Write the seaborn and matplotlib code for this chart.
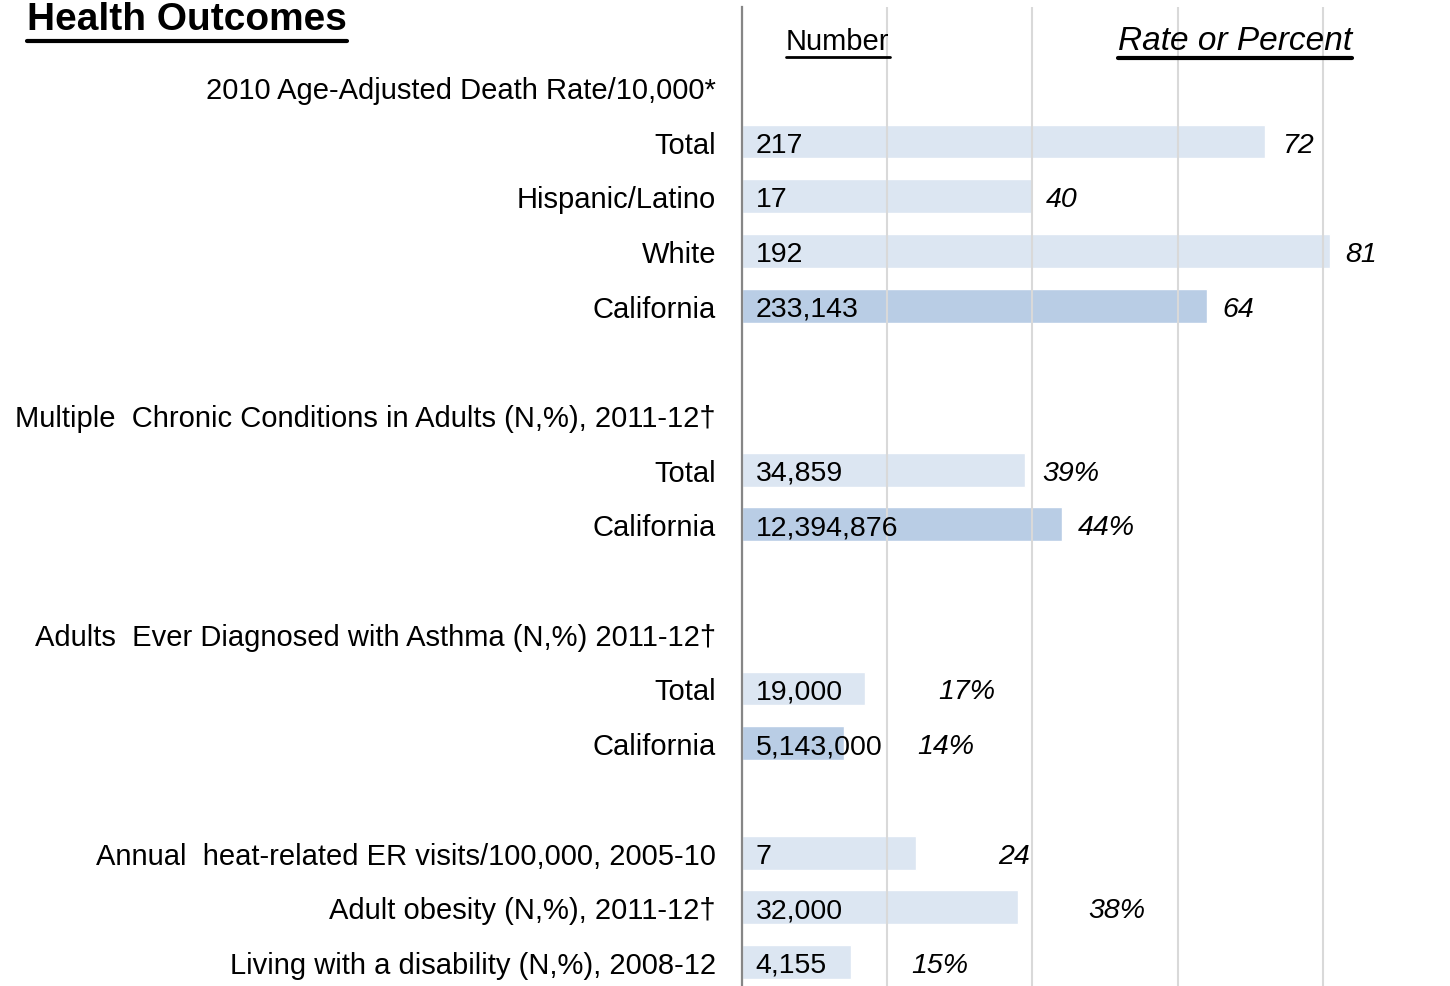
import numpy as np
import pandas as pd
import matplotlib
matplotlib.use("Agg")
import matplotlib.pyplot as plt
import seaborn as sns
from matplotlib.lines import Line2D

sns.set_theme(style="white")
plt.rcParams["font.family"] = ["Liberation Sans", "DejaVu Sans"]

# one entry per row of the table (row 0 holds the column headers)
row_labels = [
    "",
    "2010 Age-Adjusted Death Rate/10,000*",
    "Total", "Hispanic/Latino", "White", "California",
    "",
    "Multiple  Chronic Conditions in Adults (N,%), 2011-12†",
    "Total", "California",
    "",
    "Adults  Ever Diagnosed with Asthma (N,%) 2011-12†",
    "Total", "California",
    "",
    "Annual  heat-related ER visits/100,000, 2005-10",
    "Adult obesity (N,%), 2011-12†",
    "Living with a disability (N,%), 2008-12",
]
numbers = ["", "", "217", "17", "192", "233,143", "", "", "34,859", "12,394,876",
           "", "", "19,000", "5,143,000", "", "7", "32,000", "4,155"]
rates = [np.nan, np.nan, 72, 40, 81, 64, np.nan, np.nan, 39, 44,
         np.nan, np.nan, 17, 14, np.nan, 24, 38, 15]
rate_text = ["", "", "72", "40", "81", "64", "", "", "39%", "44%",
             "", "", "17%", "14%", "", "24", "38%", "15%"]
groups = ["", "", "local", "local", "local", "state", "", "", "local", "state",
          "", "", "local", "state", "", "local", "local", "local"]

# layout: x position (in rate units) of the italic rate labels
rate_label_x = [0, 0, 74.4, 41.9, 83.1, 66.1, 0, 0, 41.3, 46.3,
                0, 0, 27.0, 24.2, 0, 35.3, 47.7, 23.3]

df = pd.DataFrame({"row": range(len(row_labels)), "rate": rates, "group": groups}).dropna()

W, H = 1450, 987
fig = plt.figure(figsize=(W / 100, H / 100), dpi=100)
ax = fig.add_axes([742 / W, 0, (W - 742) / W, (H - 8) / H])

sns.barplot(data=df, x="rate", y="row", hue="group", orient="h", native_scale=True,
            dodge=False, palette={"local": "#dce6f2", "state": "#b9cde5"},
            width=0.62, saturation=1, legend=False, ax=ax)

ax.set_xlim(0, 97.5)
ax.set_ylim(17.44, -0.46)
ax.set_xlabel("")
ax.set_ylabel("")
ax.set_xticks([0, 20, 40, 60, 80])
ax.set_axisbelow(False)
ax.grid(axis="x", color="#d9d9d9", lw=1.5)
ax.grid(axis="y", visible=False)
ax.tick_params(axis="x", labelbottom=False, length=0)
ax.set_yticks(range(len(row_labels)))
ax.set_yticklabels(row_labels, fontsize=21, color="black")
ax.tick_params(axis="y", length=0, pad=18.7)
for s in ["top", "right", "bottom"]:
    ax.spines[s].set_visible(False)
ax.spines["left"].set_color("#868686")
ax.spines["left"].set_linewidth(1.6)
ax.spines["left"].set_zorder(4)

fs = 20.5
for i in range(len(row_labels)):
    if numbers[i]:
        ax.text(1.9, i, numbers[i], va="center_baseline", ha="left", fontsize=fs,
                color="black", zorder=5)
    if rate_text[i]:
        ax.text(rate_label_x[i], i, rate_text[i], va="center_baseline", ha="left",
                fontsize=fs, style="italic", color="black", zorder=5)

t_num = ax.text(13.2, 0.16, "Number", ha="center", va="center", fontsize=21, color="black")
t_rate = ax.text(67.9, 0.16, "Rate or Percent", ha="center", va="center", fontsize=24,
                 style="italic", color="black")
t_title = fig.text(27 / W, 1 - 30 / H, "Health Outcomes", ha="left", va="baseline",
                   fontsize=28, fontweight="bold", color="black")

fig.canvas.draw()
renderer = fig.canvas.get_renderer()
inv = fig.transFigure.inverted()
for t, lw, gap in [(t_title, 3, 4), (t_num, 2, 2), (t_rate, 3, 2)]:
    bb = t.get_window_extent(renderer)
    (x0, y0), (x1, _) = inv.transform([(bb.x0, bb.y0 - gap), (bb.x1, bb.y0 - gap)])
    fig.add_artist(Line2D([x0, x1], [y0, y0], transform=fig.transFigure, color="black", lw=lw))

fig.savefig("out.png", dpi=100)
